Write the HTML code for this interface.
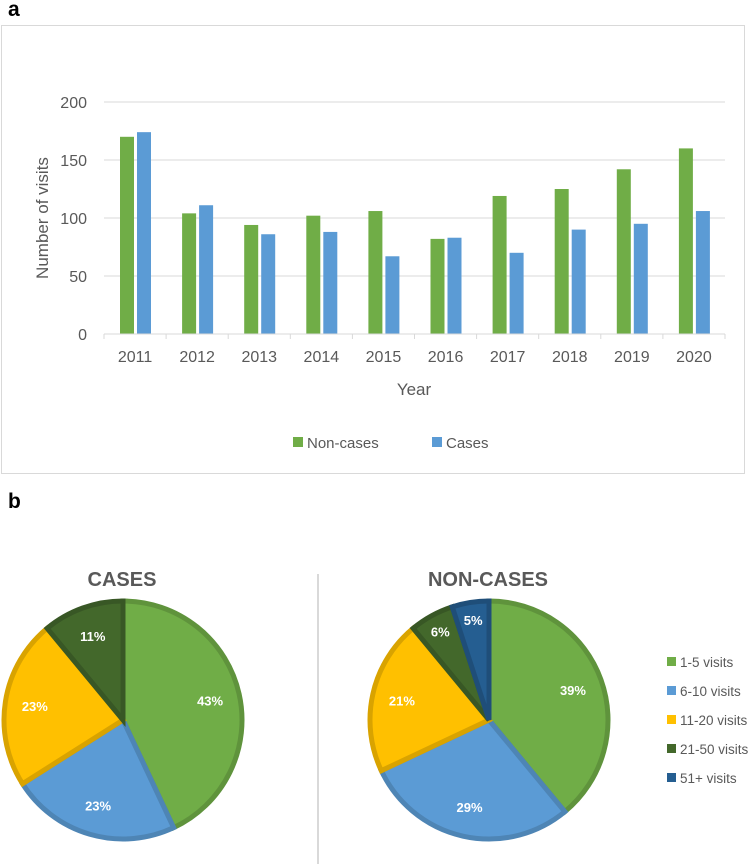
<!DOCTYPE html>
<html><head><meta charset="utf-8"><style>
body{margin:0;background:#fff;width:749px;height:864px;overflow:hidden}
svg{display:block;font-family:"Liberation Sans",sans-serif}
</style></head><body>
<svg id="fig" width="749" height="864" viewBox="0 0 749 864">
<text x="8" y="16" font-size="21" font-weight="bold" fill="#000">a</text>
<rect x="1.5" y="25.5" width="743" height="448" fill="none" stroke="#d9d9d9"/>
<g id="grid"></g><g id="bars"></g><g id="axes"></g>
<text transform="translate(48,218) rotate(-90)" text-anchor="middle" font-size="17" fill="#595959">Number of visits</text>
<text x="414" y="395" text-anchor="middle" font-size="17" fill="#595959">Year</text>
<g>
<rect x="293" y="437" width="10" height="10" fill="#70AD47"/>
<text x="307" y="448" font-size="15" fill="#595959">Non-cases</text>
<rect x="432" y="437" width="10" height="10" fill="#5B9BD5"/>
<text x="446" y="448" font-size="15" fill="#595959">Cases</text>
</g>
<text x="8" y="508" font-size="21" font-weight="bold" fill="#000">b</text>
<line x1="318" y1="574" x2="318" y2="864" stroke="#d9d9d9" stroke-width="2"/>
<text x="122" y="586" text-anchor="middle" font-size="20" font-weight="bold" fill="#595959">CASES</text>
<text x="488" y="586" text-anchor="middle" font-size="20" font-weight="bold" fill="#595959">NON-CASES</text>
<g id="pies"></g>
<g id="legendb"></g>
</svg>
<script>
const years=["2011","2012","2013","2014","2015","2016","2017","2018","2019","2020"];
const nonCases=[170,104,94,102,106,82,119,125,142,160];
const cases=[174,111,86,88,67,83,70,90,95,106];
const yTicks=[0,50,100,150,200];
const pieLabels=["1-5 visits","6-10 visits","11-20 visits","21-50 visits","51+ visits"];
const casesPct=[43,23,23,11,0];
const nonCasesPct=[39,29,21,6,5];
const NS="http://www.w3.org/2000/svg";
function mk(t,a,p){const e=document.createElementNS(NS,t);for(const k in a)e.setAttribute(k,a[k]);p.appendChild(e);return e;}
const X0=104,X1=725,Y0=334,Y1=102,YMAX=200;
const bw=(X1-X0)/years.length;
const y=v=>Y0-(v/YMAX)*(Y0-Y1);
const xg=i=>X0+i*bw;
const grid=document.getElementById('grid'),bars=document.getElementById('bars'),axes=document.getElementById('axes');
yTicks.forEach(t=>{
  if(t>0){const l=mk('line',{x1:X0,x2:X1,y1:y(t),y2:y(t),stroke:'#d9d9d9'},grid);
  
  }
  const tx=mk('text',{x:X0-17,y:y(t)+6,'text-anchor':'end','font-size':'16',fill:'#595959'},axes);tx.textContent=t;
  
  
});
const ax=mk('line',{x1:X0,x2:X1,y1:Y0,y2:Y0,stroke:'#d9d9d9'},axes);


years.forEach((yr,i)=>{
  const tk=mk('line',{x1:xg(i),x2:xg(i),y1:Y0,y2:Y0+5,stroke:'#d9d9d9'},axes);
  
  
  if(i==years.length-1){const t2=mk('line',{x1:X1,x2:X1,y1:Y0,y2:Y0+5,stroke:'#d9d9d9'},axes);}
  const tx=mk('text',{x:xg(i)+bw/2,y:Y0+28,'text-anchor':'middle','font-size':'16',fill:'#595959'},axes);tx.textContent=yr;
  
  
  const g=mk('rect',{x:xg(i)+16,y:y(nonCases[i]),width:14,height:Y0-y(nonCases[i]),fill:'#70AD47'},bars);
  
  
  const b=mk('rect',{x:xg(i)+33,y:y(cases[i]),width:14,height:Y0-y(cases[i]),fill:'#5B9BD5'},bars);
  
  
});
const fills=['#70AD47','#5B9BD5','#FFC000','#43682B','#255E91'];
const strokes=['#5F933C','#4E85B5','#D9A300','#385725','#1F4E79'];
function pie(cx,cy,r,vals,name){
  const pg=document.getElementById('pies');
  let a=0;const tot=vals.reduce((s,v)=>s+v,0);
  vals.forEach((v,i)=>{
    if(!v)return;
    const a0=a,a1=a+v/tot*2*Math.PI;a=a1;
    const p=(t)=>[cx+r*Math.sin(t),cy-r*Math.cos(t)];
    const [x0,y0]=p(a0),[x1,y1]=p(a1);
    const d=`M${cx},${cy}L${x0},${y0}A${r},${r} 0 ${a1-a0>Math.PI?1:0} 1 ${x1},${y1}Z`;
    const s=mk('path',{d:d,fill:fills[i],stroke:strokes[i],'stroke-width':'5','stroke-linejoin':'miter'},pg);
    
    
    const m=(a0+a1)/2,rr=r*(v<8?0.85:0.75);
    const t=mk('text',{x:cx+rr*Math.sin(m),y:cy-rr*Math.cos(m)+5,'text-anchor':'middle','font-size':'13','font-weight':'bold',fill:'#fff'},pg);
    t.textContent=v+'%';
    
    
  });
}
pie(123,720,119,casesPct,'cases-pie');
pie(489,720,119,nonCasesPct,'noncases-pie');
const lg=document.getElementById('legendb');
pieLabels.forEach((l,i)=>{
  const yy=662+i*29;
  const r=mk('rect',{x:667,y:yy-5,width:9,height:9,fill:fills[i]},lg);
  
  
  const t=mk('text',{x:680,y:yy+5,'font-size':'13.5',fill:'#595959'},lg);t.textContent=l;
  
  
});
</script>
</body></html>
